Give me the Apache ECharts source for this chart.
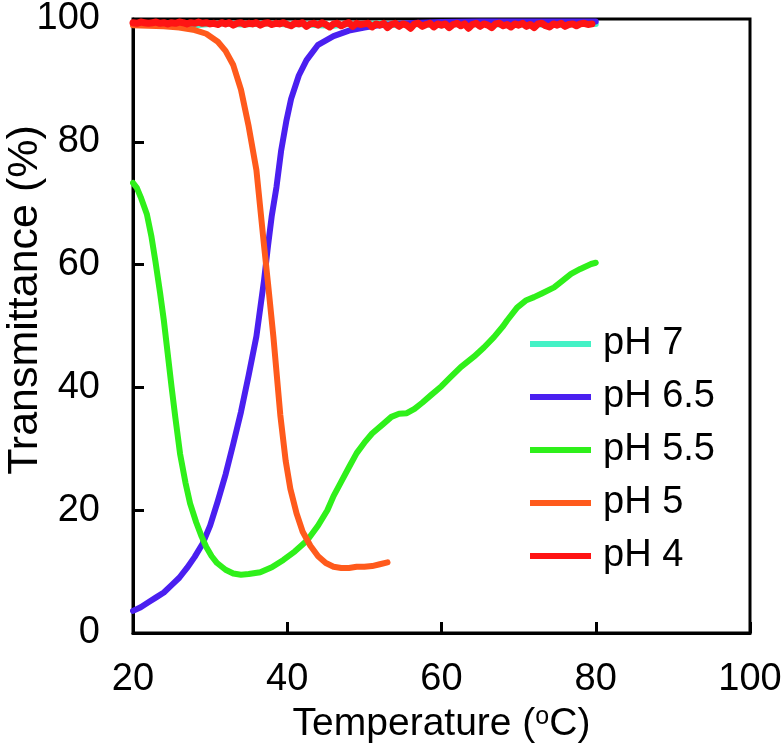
<!DOCTYPE html>
<html>
<head>
<meta charset="utf-8">
<script src="https://cdn.jsdelivr.net/npm/echarts@6/dist/echarts.min.js"></script>
<style>html,body{margin:0;padding:0;background:#fff}#c{width:783px;height:751px}</style>
</head>
<body>
<div id="c"></div>
<script>
// ---- Data ----
const seriesNames = ['pH 7', 'pH 6.5', 'pH 5.5', 'pH 5', 'pH 4'];
const xTicks = [20, 40, 60, 80, 100];
const yTicks = [0, 20, 40, 60, 80, 100];
const xTitle = '{n|Temperature (}{s|o}{n|C)}';
const yTitle = 'Transmittance (%)';

const ph7T = [20, 22, 24, 26, 28, 30, 32, 34, 36, 38, 40, 42, 44, 46, 48, 50, 52, 54, 56, 58, 60, 62, 64, 66, 68, 70, 72, 74, 76, 78, 80];
const ph7V = [99.3, 99.2, 99.3, 99.1, 99.0, 99.2, 99.3, 99.1, 99.2, 99.3, 99.1, 99.2, 99.0, 98.9, 99.2, 99.1, 99.3, 99.0, 99.2, 99.1, 99.0, 99.2, 99.1, 99.3, 99.0, 99.1, 99.2, 99.0, 99.1, 99.2, 99.2];

const ph65T = [20, 21, 22, 23, 24, 25, 26, 27, 28, 29, 30, 31, 32, 33, 34, 35, 36, 37, 37.5, 38, 38.6, 39.2, 39.9, 40.5, 41.5, 42.5, 44, 46, 48, 50, 52, 54, 57, 60, 65, 70, 75, 80];
const ph65V = [3.6, 4.2, 5.0, 5.8, 6.6, 7.8, 9.0, 10.6, 12.4, 14.5, 17.5, 21.5, 25.8, 30.8, 36, 42, 48.3, 57.5, 63, 68, 72.6, 78.5, 83.5, 87, 90.8, 93.3, 95.8, 97.2, 98.1, 98.6, 99.0, 99.2, 99.4, 99.5, 99.6, 99.6, 99.6, 99.6];

const ph55T = [20, 20.5, 21, 21.8, 22.4, 22.9, 23.5, 24, 24.5, 25, 25.5, 26.1, 26.8, 27.4, 28.2, 28.9, 29.5, 30.2, 30.9, 32, 33, 34, 35, 36.5, 38, 39.5, 41, 42.6, 44, 45.2, 46, 46.9, 48, 49, 50, 51, 52.5, 53.5, 54.5, 55.5, 56.5, 57.5, 58.6, 60, 61.2, 62.5, 64.2, 65.5, 66.8, 68, 68.5, 69.8, 71, 72, 73, 74.6, 75.5, 76.8, 78, 79.4, 80];
const ph55V = [73.3, 72.5, 71, 68.2, 64.5, 60.6, 55.5, 50.9, 45.5, 40.1, 35, 29.2, 24.5, 21.1, 18, 15.7, 14, 12.5, 11.4, 10.3, 9.7, 9.5, 9.6, 9.9, 10.7, 11.9, 13.3, 15.1, 17.5, 20, 22.3, 24.4, 27, 29.3, 31, 32.5, 34.1, 35.2, 35.7, 35.8, 36.5, 37.5, 38.7, 40.2, 41.7, 43.3, 45, 46.5, 48.2, 50, 50.9, 53, 54.2, 54.7, 55.3, 56.3, 57.2, 58.5, 59.3, 60.1, 60.3];

const ph5T = [20, 22, 24, 26, 28, 29.5, 31, 32, 33, 34, 35, 36, 37, 37.5, 38.2, 39.1, 39.8, 40.4, 41.2, 42, 43, 44, 45, 46, 47, 48, 49, 50, 51, 52, 53];
const ph5V = [99.0, 98.9, 98.8, 98.6, 98.2, 97.6, 96.3, 94.8, 92.5, 88.5, 82.5, 75.4, 63, 57, 48.3, 35.5, 28, 23.5, 19.5, 16.5, 14.2, 12.5, 11.4, 10.8, 10.6, 10.6, 10.8, 10.8, 10.9, 11.2, 11.5];

const ph4Start = 20, ph4Step = 0.5;
const ph4V = [
  99.4, 99.3, 99.5, 99.4, 99.3, 99.4, 99.5, 99.3, 99.4, 99.2, 99.4, 99.3, 99.5, 99.4, 99.2, 99.4, 99.3, 99.5, 99.3, 99.4, 99.2,
  99.3, 99.1, 99.4, 99.2, 99.4, 99.0, 99.3, 99.4, 99.1, 99.3, 99.2, 99.4, 99.0, 99.3, 99.4, 99.1, 99.3, 99.2, 99.4, 99.1,
  98.9, 99.3, 99.2, 99.4, 98.8, 99.2, 99.3, 99.0, 99.4, 99.1, 98.7, 99.2, 99.3, 98.9, 99.2, 99.4, 98.8, 99.3, 99.1, 99.2,
  99.3, 98.7, 99.2, 99.0, 99.3, 98.6, 99.1, 99.3, 98.8, 99.2, 99.0, 98.5, 99.2, 99.3, 98.8, 99.1, 99.3, 98.7, 99.2, 99.0,
  99.2, 98.6, 99.1, 99.3, 98.9, 99.2, 98.5, 99.1, 99.3, 98.8, 99.2, 99.0, 98.6, 99.2, 99.3, 98.9, 99.1, 98.7, 99.2, 99.0,
  99.3, 98.8, 99.1, 98.6, 99.2, 99.3, 98.9, 98.7, 99.2, 99.0, 99.3, 98.8, 99.1, 99.2, 98.9, 99.2, 99.3, 99.1, 99.2
];

const colors = ['#44f2c6', '#4a1ff0', '#2ff01a', '#ff5a1c', '#ff1414'];

// ---- Build series ----
function pairs(t, v) { return t.map((x, i) => [x, v[i]]); }
const ph4T = ph4V.map((_, i) => ph4Start + i * ph4Step);
const allData = [pairs(ph7T, ph7V), pairs(ph65T, ph65V), pairs(ph55T, ph55V), pairs(ph5T, ph5V), pairs(ph4T, ph4V)];

const FONT = '"Liberation Sans", Arial, Helvetica, sans-serif';

const chart = echarts.init(document.getElementById('c'), null, { renderer: 'canvas' });
chart.setOption({
  animation: false,
  backgroundColor: '#fff',
  color: colors,
  grid: { left: 133, right: 33, top: 19, bottom: 118, show: true, borderColor: '#000', borderWidth: 3, containLabel: false, outerBoundsMode: 'none' },
  graphic: [{
    type: 'text', x: 25, y: 300, rotation: Math.PI / 2,
    style: { text: yTitle, font: '43px ' + FONT, fill: '#000', align: 'center', verticalAlign: 'middle' }
  }],
  legend: {
    orient: 'vertical', left: 530, top: 325, padding: 0,
    icon: 'rect', itemWidth: 61, itemHeight: 6, itemGap: 15,
    data: seriesNames,
    textStyle: { fontFamily: FONT, fontSize: 38, color: '#000', lineHeight: 38, padding: [0, 0, 0, 7] }
  },
  xAxis: {
    type: 'value', min: xTicks[0], max: xTicks[xTicks.length - 1], interval: 20,
    name: xTitle, nameLocation: 'middle', nameGap: 72,
    nameTextStyle: { rich: { n: { fontFamily: FONT, fontSize: 39, color: '#000' }, s: { fontFamily: FONT, fontSize: 25, color: '#000', verticalAlign: 'top' } } },
    axisLine: { lineStyle: { color: '#000', width: 3 } },
    axisTick: { inside: true, length: 11, lineStyle: { color: '#000', width: 3 } },
    axisLabel: { fontFamily: FONT, fontSize: 38, color: '#000', margin: 28 },
    splitLine: { show: false }
  },
  yAxis: {
    type: 'value', min: yTicks[0], max: yTicks[yTicks.length - 1], interval: 20,
    axisLine: { lineStyle: { color: '#000', width: 3 } },
    axisTick: { inside: true, length: 11, lineStyle: { color: '#000', width: 3 } },
    axisLabel: { fontFamily: FONT, fontSize: 38, color: '#000', margin: 33 },
    splitLine: { show: false }
  },
  series: seriesNames.map((n, i) => ({
    name: n, type: 'line', data: allData[i], showSymbol: false, symbol: 'none',
    smooth: false, clip: true,
    lineStyle: { width: i === 4 ? 7 : 6, color: colors[i], cap: 'round', join: 'round' },
    z: 2 + i
  }))
});
</script>
</body>
</html>
